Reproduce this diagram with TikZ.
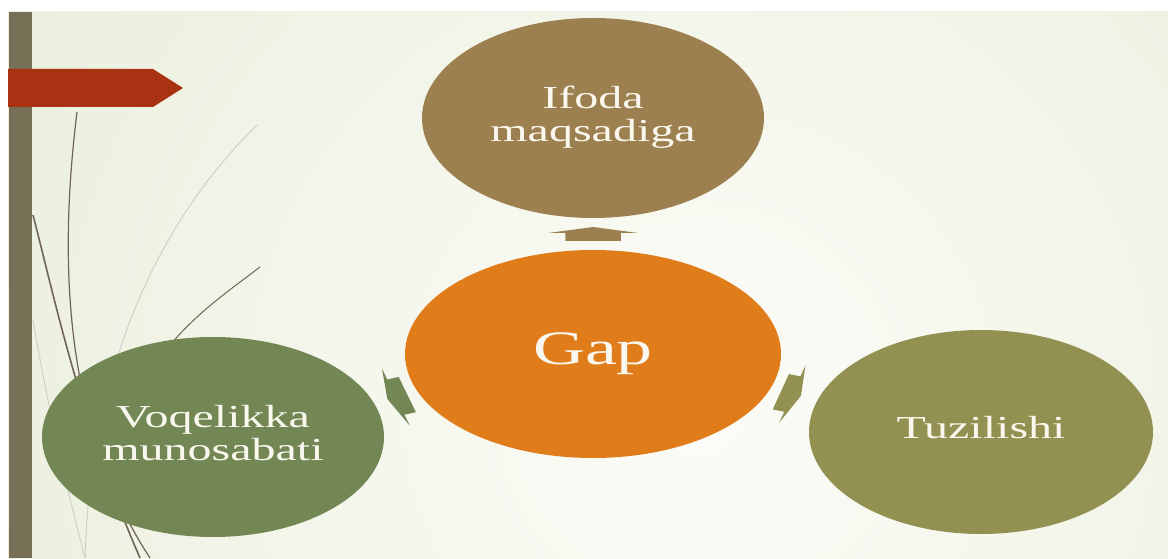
\documentclass[tikz,border=0pt]{standalone}
\usepackage{fontspec}
\setmainfont{Liberation Serif}
\usepackage{graphicx}
\usetikzlibrary{shapes.geometric,positioning,calc}

\definecolor{bggreen}{RGB}{228,234,210}
\definecolor{bgwhite}{RGB}{252,252,248}
\definecolor{barbrown}{RGB}{120,112,86}
\definecolor{bannerred}{RGB}{168,50,18}
\definecolor{ifodabrown}{RGB}{157,128,79}
\definecolor{gaporange}{RGB}{224,125,26}
\definecolor{voqgreen}{RGB}{115,135,84}
\definecolor{tuzolive}{RGB}{146,145,82}
\definecolor{cream}{RGB}{250,247,238}
\definecolor{linedark}{RGB}{110,100,88}
\definecolor{linelight}{RGB}{205,205,195}

\newcommand{\widetext}[1]{\scalebox{1.5}[1]{\begin{tabular}{@{}c@{}}#1\end{tabular}}}

\begin{document}
\begin{tikzpicture}[x=1pt,y=1pt,
    bubble/.style={ellipse,inner sep=0pt,text=cream,font=\fontsize{32}{33}\selectfont},
    hub/.style={ellipse,inner sep=0pt,text=cream,font=\fontsize{48}{50}\selectfont},
    stem/.style={linedark,line width=1.2pt},
    grass/.style={linelight,line width=0.9pt},
    blockarrow/.pic={\fill[pic actions] (-30,1) -- (0,7) -- (30,1) -- (18.5,1) -- (18.5,-7) -- (-18.5,-7) -- (-18.5,1) -- cycle;}
]
\useasboundingbox (0,0) rectangle (1168,558);
\fill[white] (0,0) rectangle (1168,558);

% Background
\begin{scope}
\clip (8,0) rectangle (1168,546);
\fill[bggreen] (8,0) rectangle (1168,546);
\shade[inner color=bgwhite,outer color=bggreen] (700,150) circle (1100);
\end{scope}

% Decorative stems
\draw[grass] (257,433) .. controls (150,328) and (90,178) .. (85,0);
\draw[grass] (33,238) .. controls (50,138) and (70,58) .. (85,0);
\draw[stem] (77,446) .. controls (60,308) and (60,138) .. (150,0);
\draw[stem,line width=1.6pt] (33,343) .. controls (55,258) and (80,138) .. (140,0);
\draw[stem,line width=1pt] (260,291) .. controls (230,268) and (200,248) .. (170,213);

% Side bar and banner
\fill[barbrown] (9,0) rectangle (32,546);
\fill[bannerred] (8,451) -- (153,451) -- (183,470) -- (153,489) -- (8,489) -- cycle;

% Bubbles
\node[hub,fill=gaporange,minimum width=376pt,minimum height=208pt] (gap) at (593,204) {\widetext{Gap}};
\node[bubble,fill=ifodabrown,minimum width=342pt,minimum height=200pt] (ifoda) at (593,440) {\widetext{Ifoda\\maqsadiga}};
\node[bubble,fill=voqgreen,minimum width=342pt,minimum height=200pt] (voqelik) at (213,121) {\widetext{Voqelikka\\munosabati}};
\node[bubble,fill=tuzolive,minimum width=344pt,minimum height=204pt] (tuzil) at (981,126) {\widetext{Tuzilishi}};

% Arrows between hub and bubbles
\coordinate (arrtop) at ($(gap.north)!0.5!(ifoda.south)$);
\coordinate (arrleft) at ($(gap.center)!0.515!(voqelik.center)$);
\coordinate (arrright) at ($(gap.center)!0.51!(tuzil.center)$);
\pic[fill=ifodabrown,xscale=1.5] at (arrtop) {blockarrow};
\pic[fill=voqgreen,xscale=1.5,rotate=108] at (arrleft) {blockarrow};
\pic[fill=tuzolive,xscale=1.5,rotate=-107] at (arrright) {blockarrow};

\end{tikzpicture}
\end{document}
